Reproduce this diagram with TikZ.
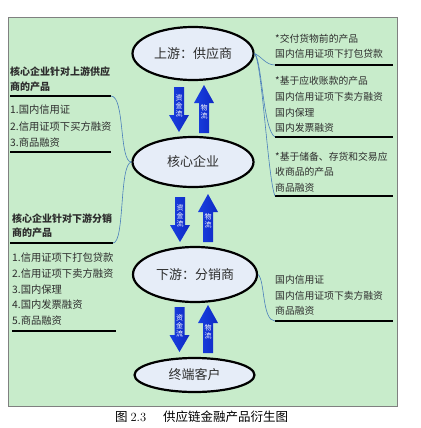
\documentclass[tikz,border=0pt]{standalone}
\usepackage{fontspec}
\setmainfont{Noto Sans CJK SC}
\usetikzlibrary{shapes.geometric}
\definecolor{bg}{RGB}{200,236,203}
\definecolor{ellfill}{RGB}{230,237,248}
\definecolor{linkblue}{RGB}{74,126,187}
\definecolor{txt}{RGB}{45,45,45}
\definecolor{arrA}{RGB}{25,65,225}
\definecolor{arrB}{RGB}{85,145,255}
\definecolor{arrC}{RGB}{15,40,195}
\tikzset{
  hdr/.style={font=\fontsize{10}{12}\selectfont\bfseries, anchor=west, inner sep=0, text=txt},
  itm/.style={font=\fontsize{10.3}{12}\selectfont, anchor=west, inner sep=0, text=txt},
  rt/.style={font=\fontsize{9.8}{12}\selectfont, anchor=west, inner sep=0, text=txt},
  bar/.style={line width=2.4pt},
  ell/.style={ellipse, draw, line width=2.2pt, fill=ellfill, inner sep=0, font=\fontsize{13}{15}\selectfont, text=txt},
  link/.style={draw=linkblue, line width=0.6pt},
  arr/.style={left color=arrA, middle color=arrB, right color=arrC},
  arrtxt/.style={font=\fontsize{7}{8}\selectfont, text=white, align=center, inner sep=0}
}
\newcommand\mydarrow[2]{\shade[arr] (#1,#2) ++(-5,0) -- ++(10,0) -- ++(0,28) -- ++(5,0) -- ++(-10,17) -- ++(-10,-17) -- ++(5,0) -- cycle;}
\newcommand\myuarrow[2]{\shade[arr] (#1,#2) ++(-5,0) -- ++(10,0) -- ++(0,-30) -- ++(5,0) -- ++(-10,-18) -- ++(-10,18) -- ++(5,0) -- cycle;}
\begin{document}
\begin{tikzpicture}[x=1pt,y=-1pt]
\useasboundingbox (0,0) rectangle (420,428);
\fill[white] (0,0) rectangle (420,428);
\draw[fill=bg, draw=gray, line width=0.8pt] (8,17) rectangle (397,406);

% ellipses
\node[ell, minimum width=121pt, minimum height=53pt] (up) at (193,53.5) {上游：供应商};
\node[ell, minimum width=121pt, minimum height=50pt] (core) at (193,162) {核心企业};
\node[ell, minimum width=124pt, minimum height=55pt] (down) at (195,274.5) {下游：分销商};
\node[ell, minimum width=120pt, minimum height=34pt] (cust) at (194.5,375) {终端客户};

% block arrows
\mydarrow{179}{87}
\myuarrow{204}{133}
\mydarrow{180}{197}
\myuarrow{208}{242}
\mydarrow{179.5}{307}
\myuarrow{208}{353}
\node[arrtxt] (f1) at (179,106) {资\\金\\流};
\node[arrtxt] (w1) at (204,112) {物\\流};
\node[arrtxt] (f2) at (180,216) {资\\金\\流};
\node[arrtxt] (w2) at (208,221) {物\\流};
\node[arrtxt] (f3) at (179.5,326) {资\\金\\流};
\node[arrtxt] (w3) at (208,332) {物\\流};

% left block 1
\node[hdr] (l1a) at (10,72) {核心企业针对上游供应};
\node[hdr] (l1b) at (10,87) {商的产品};
\coordinate (l1s) at (10,96);
\coordinate (l1e) at (111,96);
\draw[bar] (l1s) -- (l1e);
\node[itm] (l1i1) at (10,110) {1.国内信用证};
\node[itm] (l1i2) at (10,127) {2.信用证项下买方融资};
\node[itm] (l1i3) at (10,143) {3.商品融资};
\coordinate (l1t) at (10,152);
\coordinate (l1u) at (111,152);
\draw[bar] (l1t) -- (l1u);

% left block 2
\node[hdr] (l2a) at (12,219) {核心企业针对下游分销};
\node[hdr] (l2b) at (12,233) {商的产品};
\coordinate (l2s) at (10,243);
\coordinate (l2e) at (113,243);
\draw[bar] (l2s) -- (l2e);
\node[itm] (l2i1) at (12,258) {1.信用证项下打包贷款};
\node[itm] (l2i2) at (12,274) {2.信用证项下卖方融资};
\node[itm] (l2i3) at (12,290) {3.国内保理};
\node[itm] (l2i4) at (12,305) {4.国内发票融资};
\node[itm] (l2i5) at (12,321) {5.商品融资};
\coordinate (l2t) at (12,331);
\coordinate (l2u) at (116,331);
\draw[bar] (l2t) -- (l2u);

% right block 1
\node[rt] (r1a) at (275,39) {*交付货物前的产品};
\node[rt] (r1b) at (275,54) {国内信用证项下打包贷款};
\coordinate (r1s) at (275,65);
\coordinate (r1e) at (393,65);
\draw[bar] (r1s) -- (r1e);

% right block 2
\node[rt] (r2a) at (275,81) {*基于应收账款的产品};
\node[rt] (r2b) at (275,97) {国内信用证项下卖方融资};
\node[rt] (r2c) at (275,113) {国内保理};
\node[rt] (r2d) at (275,128) {国内发票融资};
\coordinate (r2s) at (275,137);
\coordinate (r2e) at (393,137);
\draw[bar] (r2s) -- (r2e);

% right block 3
\node[rt] (r3a) at (275,157) {*基于储备、存货和交易应};
\node[rt] (r3b) at (275,172) {收商品的产品};
\node[rt] (r3c) at (275,188) {商品融资};
\coordinate (r3s) at (275,196);
\coordinate (r3e) at (393,196);
\draw[bar] (r3s) -- (r3e);

% right block 4
\node[rt] (r4a) at (275,280) {国内信用证};
\node[rt] (r4b) at (275,296) {国内信用证项下卖方融资};
\node[rt] (r4c) at (275,311) {商品融资};
\coordinate (r4s) at (275,321);
\coordinate (r4e) at (393,321);
\draw[bar] (r4s) -- (r4e);

% connectors
\draw[link] (l1e) .. controls (125,96) and (119,162) .. (core.west);
\draw[link] (l2e) .. controls (125,243) and (119,164) .. (core.west);
\draw[link] (up.east) .. controls (262,57) and (266,65) .. (r1s);
\draw[link] (up.east) .. controls (262,60) and (263,130) .. (r2s);
\draw[link] (up.east) .. controls (262,62) and (268,180) .. (r3s);
\draw[link] (down.east) .. controls (265,280) and (262,321) .. (r4s);

% caption
\node[font=\fontsize{12.5}{14}\selectfont, anchor=west, inner sep=0] (capa) at (115,417) {图 {\fontfamily{lmr}\selectfont 2.3}};
\node[font=\fontsize{12.5}{14}\selectfont, anchor=west, inner sep=0] (capb) at (163,417) {供应链金融产品衍生图};
\end{tikzpicture}
\end{document}
